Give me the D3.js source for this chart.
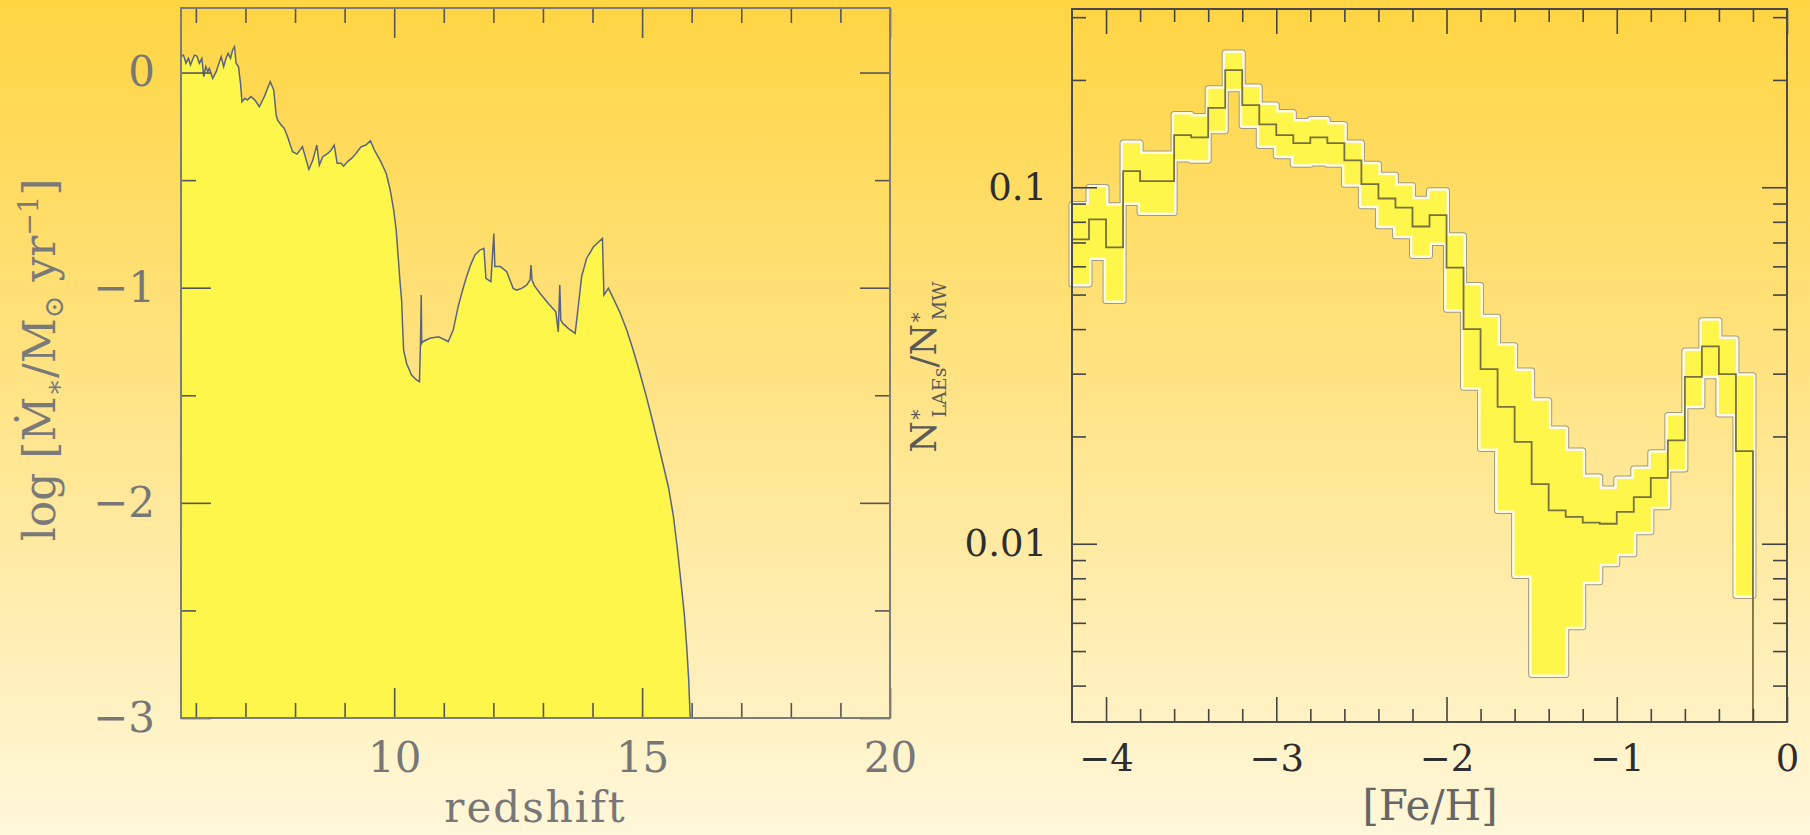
<!DOCTYPE html>
<html>
<head>
<meta charset="utf-8">
<script src="https://cdn.jsdelivr.net/npm/d3@7"></script>
<style>
  body { margin: 0; }
</style>
</head>
<body>
<div id="chart"></div>
<script>
/* Star formation history vs redshift (left) and LAE / MW metallicity ratio (right) */

// left panel: log SFR along the redshift track
const redshift = [5.70, 5.75, 5.80, 5.85, 5.89, 5.97, 6.02, 6.07, 6.12, 6.16, 6.20, 6.24, 6.27, 6.34, 6.41,
    6.51, 6.56, 6.61, 6.65, 6.70, 6.74, 6.78, 6.81, 6.86, 6.90, 6.93, 6.99, 7.04, 7.11, 7.19, 7.28, 7.38,
    7.50, 7.57, 7.62, 7.65, 7.72, 7.78, 7.85, 7.95, 8.04, 8.15, 8.28, 8.36, 8.44, 8.49, 8.56, 8.66, 8.73,
    8.79, 8.85, 8.93, 8.98, 9.06, 9.14, 9.23, 9.33, 9.43, 9.52, 9.60, 9.73, 9.84, 9.92, 9.99, 10.04, 10.08,
    10.12, 10.15, 10.17, 10.19, 10.25, 10.35, 10.45, 10.51, 10.53, 10.545, 10.555, 10.575, 10.72, 10.89,
    11.03, 11.09, 11.19, 11.29, 11.38, 11.46, 11.54, 11.63, 11.73, 11.81, 11.85, 11.95, 12.01, 12.03, 12.14,
    12.27, 12.40, 12.47, 12.57, 12.67, 12.74, 12.76, 12.78, 12.82, 12.94, 13.11, 13.26, 13.31, 13.34, 13.36,
    13.40, 13.51, 13.65, 13.72, 13.78, 13.88, 14.02, 14.20, 14.23, 14.32, 14.42, 14.56, 14.69, 14.82, 14.96,
    15.09, 15.19, 15.36, 15.53, 15.63, 15.71, 15.78, 15.85, 15.90, 15.94, 15.97];
const logSfr = [0.074, 0.081, 0.043, 0.066, 0.035, 0.081, 0.077, 0.043, 0.066, -0.019, 0.027, 0.004, 0.019, -0.027, 0.004,
    0.074, 0.027, 0.066, 0.089, 0.066, 0.105, 0.120, 0.043, 0.027, -0.050, -0.136, -0.120, -0.128, -0.112, -0.128, -0.159, -0.112,
    -0.043, -0.081, -0.198, -0.221, -0.244, -0.259, -0.298, -0.368, -0.379, -0.345, -0.450, -0.407, -0.337, -0.430, -0.391, -0.376, -0.360,
    -0.337, -0.422, -0.422, -0.435, -0.414, -0.399, -0.376, -0.345, -0.337, -0.317, -0.360, -0.414, -0.469, -0.546, -0.639, -0.732, -0.856,
    -0.980, -1.060, -1.180, -1.290, -1.352, -1.406, -1.429, -1.437, -1.259, -1.034, -1.259, -1.251, -1.235, -1.228,
    -1.243, -1.251, -1.197, -1.088, -1.011, -0.949, -0.895, -0.848, -0.825, -0.817, -0.957, -0.972, -0.748, -0.902, -0.902,
    -0.926, -1.003, -1.011, -1.003, -0.988, -0.964, -0.895, -0.964, -0.988, -1.026, -1.073, -1.112, -1.205, -0.988, -1.150,
    -1.166, -1.189, -1.212, -1.073, -0.949, -0.864, -0.810, -0.771, -1.034, -1.003, -1.050, -1.119, -1.197, -1.290, -1.400,
    -1.510, -1.600, -1.760, -1.925, -2.060, -2.210, -2.360, -2.514, -2.669, -2.823, -3.0];

// right panel: [Fe/H] bins (left edges, width 0.1) with ratio and its band
const fehBins = [-4.2, -4.1, -4.0, -3.9, -3.8, -3.7, -3.6, -3.5, -3.4, -3.3, -3.2, -3.1, -3.0, -2.9, -2.8, -2.7,
    -2.6, -2.5, -2.4, -2.3, -2.2, -2.1, -2.0, -1.9, -1.8, -1.7, -1.6, -1.5, -1.4, -1.3, -1.2, -1.1, -1.0, -0.9,
    -0.8, -0.7, -0.6, -0.5, -0.4, -0.3];
const fehEnd = -0.2;
const ratioMid = [0.0714, 0.0813, 0.0678, 0.111, 0.104, 0.104, 0.140, 0.138, 0.167, 0.213, 0.170, 0.150, 0.140, 0.133,
    0.138, 0.133, 0.119, 0.102, 0.093, 0.0877, 0.0776, 0.0835, 0.0595, 0.040, 0.0309, 0.0242, 0.0193, 0.0147, 0.0124,
    0.0119, 0.01146, 0.01138, 0.01228, 0.01352, 0.0153, 0.0195, 0.0294, 0.0358, 0.0299, 0.0182];
const ratioHigh = [0.0895, 0.0998, 0.0888, 0.133, 0.124, 0.124, 0.160, 0.158, 0.189, 0.238, 0.191, 0.170, 0.162, 0.153,
    0.155, 0.150, 0.133, 0.116, 0.108, 0.101, 0.0925, 0.0977, 0.0731, 0.053, 0.0432, 0.0359, 0.0305, 0.0252, 0.0210,
    0.0182, 0.01538, 0.01425, 0.0152, 0.0162, 0.0180, 0.0229, 0.0347, 0.0422, 0.0375, 0.0296];
const ratioLow = [0.0535, 0.0635, 0.0481, 0.0906, 0.0849, 0.0849, 0.120, 0.119, 0.144, 0.189, 0.149, 0.131, 0.1225, 0.116,
    0.117, 0.116, 0.102, 0.0888, 0.078, 0.0731, 0.0643, 0.070, 0.0455, 0.0275, 0.0185, 0.0124, 0.00815, 0.0043, 0.0043,
    0.00585, 0.00782, 0.00879, 0.00937, 0.0108, 0.0127, 0.0162, 0.0244, 0.0296, 0.0231, 0.00716];

// tick values
const zMajor = [10, 15, 20];
const zMinor = [6, 7, 8, 9, 11, 12, 13, 14, 16, 17, 18, 19];
const sfrMajor = [0, -1, -2, -3];
const sfrMinor = [-0.5, -1.5, -2.5];
const fehMajor = [-4, -3, -2, -1, 0];
const fehMinor = [-3.8, -3.6, -3.4, -3.2, -2.8, -2.6, -2.4, -2.2, -1.8, -1.6, -1.4, -1.2, -0.8, -0.6, -0.4, -0.2];
const ratioMajor = [0.1, 0.01];
const ratioMinor = [0.004, 0.005, 0.006, 0.007, 0.008, 0.009, 0.02, 0.03, 0.04, 0.05, 0.06, 0.07, 0.08, 0.09, 0.2, 0.3];

const width = 1810, height = 835;
const serif = '"DejaVu Serif", "Liberation Serif", serif';

let svg = d3.select("#chart")
    .append("svg")
    .attr("width", width)
    .attr("height", height);

let grad = svg.append("defs").append("linearGradient")
    .attr("id", "bg")
    .attr("x1", 0).attr("y1", 0).attr("x2", 0).attr("y2", 1);
grad.append("stop").attr("offset", "0%").attr("stop-color", "#ffd543");
grad.append("stop").attr("offset", "45%").attr("stop-color", "#ffe383");
grad.append("stop").attr("offset", "100%").attr("stop-color", "#fff7da");

svg.append("rect")
    .attr("width", width)
    .attr("height", height)
    .attr("fill", "url(#bg)");

function tidy(g, color, size, textColor) {
    g.select(".domain").remove();
    g.attr("font-family", serif).attr("font-size", size);
    g.selectAll(".tick line").attr("stroke", color).attr("stroke-width", 1.6);
    g.selectAll(".tick text").attr("fill", textColor);
}

/* ---------- left panel ---------- */
const m1 = {left: 181, right: 890, top: 8, bottom: 718};

let x1 = d3.scaleLinear()
    .domain([5.7, 20])
    .range([m1.left, m1.right]);

let y1 = d3.scaleLinear()
    .domain([-3, 0.3])
    .range([m1.bottom, m1.top]);

let sfr = redshift.map((z, i) => ({z: z, v: logSfr[i]}));

svg.append("path")
    .datum(sfr)
    .attr("fill", "#fff64b")
    .attr("d", d3.area()
        .x(d => x1(d.z))
        .y0(y1(-3))
        .y1(d => y1(d.v)));

svg.append("path")
    .datum(sfr)
    .attr("fill", "none")
    .attr("stroke", "#5a6480")
    .attr("stroke-width", 1.5)
    .attr("d", d3.line()
        .x(d => x1(d.z))
        .y(d => y1(d.v)));

// bottom / top
svg.append("g")
    .attr("transform", `translate(0,${m1.bottom})`)
    .call(d3.axisBottom(x1).tickValues(zMajor).tickSize(-30).tickPadding(24).tickFormat(d3.format("d")))
    .call(g => tidy(g, "#555", 42, "#777"));
svg.append("g")
    .attr("transform", `translate(0,${m1.bottom})`)
    .call(d3.axisBottom(x1).tickValues(zMinor).tickSize(-15).tickFormat(""))
    .call(g => tidy(g, "#555", 42, "#777"));
svg.append("g")
    .attr("transform", `translate(0,${m1.top})`)
    .call(d3.axisTop(x1).tickValues(zMajor).tickSize(-30).tickFormat(""))
    .call(g => tidy(g, "#555", 42, "#777"));
svg.append("g")
    .attr("transform", `translate(0,${m1.top})`)
    .call(d3.axisTop(x1).tickValues(zMinor).tickSize(-15).tickFormat(""))
    .call(g => tidy(g, "#555", 42, "#777"));

// left / right
svg.append("g")
    .attr("transform", `translate(${m1.left},0)`)
    .call(d3.axisLeft(y1).tickValues(sfrMajor).tickSize(-30).tickPadding(26).tickFormat(d3.format("d")))
    .call(g => tidy(g, "#555", 42, "#777"));
svg.append("g")
    .attr("transform", `translate(${m1.left},0)`)
    .call(d3.axisLeft(y1).tickValues(sfrMinor).tickSize(-15).tickFormat(""))
    .call(g => tidy(g, "#555", 42, "#777"));
svg.append("g")
    .attr("transform", `translate(${m1.right},0)`)
    .call(d3.axisRight(y1).tickValues(sfrMajor).tickSize(-30).tickFormat(""))
    .call(g => tidy(g, "#555", 42, "#777"));
svg.append("g")
    .attr("transform", `translate(${m1.right},0)`)
    .call(d3.axisRight(y1).tickValues(sfrMinor).tickSize(-15).tickFormat(""))
    .call(g => tidy(g, "#555", 42, "#777"));

svg.append("rect")
    .attr("x", m1.left).attr("y", m1.top)
    .attr("width", m1.right - m1.left).attr("height", m1.bottom - m1.top)
    .attr("fill", "none").attr("stroke", "#7c7c7c").attr("stroke-width", 2);

svg.append("text")
    .attr("x", (m1.left + m1.right) / 2)
    .attr("y", 822)
    .attr("text-anchor", "middle")
    .attr("font-family", serif).attr("font-size", 42)
    .attr("letter-spacing", 2)
    .attr("fill", "#777")
    .text("redshift");

let ylab1 = svg.append("text")
    .attr("transform", "translate(55,360) rotate(-90)")
    .attr("text-anchor", "middle")
    .attr("font-family", serif).attr("font-size", 44)
    .attr("fill", "#7a7a7a");
ylab1.append("tspan").text("log [Ṁ");
ylab1.append("tspan").attr("font-size", 27).attr("dy", 8).text("∗");
ylab1.append("tspan").attr("dy", -8).text("/M");
ylab1.append("tspan").attr("font-size", 27).attr("dy", 8).text("⊙");
ylab1.append("tspan").attr("dy", -8).text(" yr");
ylab1.append("tspan").attr("font-size", 27).attr("dy", -17).text("−1");
ylab1.append("tspan").attr("dy", 17).text("]");

/* ---------- right panel ---------- */
const m2 = {left: 1072, right: 1787, top: 9, bottom: 722};

let x2 = d3.scaleLinear()
    .domain([-4.2, 0])
    .range([m2.left, m2.right]);

let y2 = d3.scaleLog()
    .domain([Math.pow(10, -2.5), Math.pow(10, -0.5)])
    .range([m2.bottom, m2.top]);

let bins = fehBins.map((f, i) => ({f: f, mid: ratioMid[i], hi: ratioHigh[i], lo: ratioLow[i]}));
let last = bins[bins.length - 1];
let binsEnd = bins.concat([{f: fehEnd, mid: last.mid, hi: last.hi, lo: last.lo}]);

let band = d3.area()
    .curve(d3.curveStepAfter)
    .x(d => x2(d.f))
    .y0(d => y2(d.lo))
    .y1(d => y2(d.hi));

svg.append("path").datum(binsEnd)
    .attr("fill", "none").attr("stroke", "#a39a78").attr("stroke-width", 7)
    .attr("stroke-linejoin", "round")
    .attr("d", band);
svg.append("path").datum(binsEnd)
    .attr("fill", "none").attr("stroke", "#fffbe6").attr("stroke-width", 5)
    .attr("stroke-linejoin", "round")
    .attr("d", band);
svg.append("path").datum(binsEnd)
    .attr("fill", "#fff64b")
    .attr("d", band);

let lineData = bins.concat([{f: fehEnd, mid: y2.domain()[0]}]);
svg.append("path").datum(lineData)
    .attr("fill", "none")
    .attr("stroke", "#76723f")
    .attr("stroke-width", 1.8)
    .attr("d", d3.line()
        .curve(d3.curveStepAfter)
        .x(d => x2(d.f))
        .y(d => y2(d.mid)));

const ratioFmt = d => d === 0.1 ? "0.1" : "0.01";

svg.append("g")
    .attr("transform", `translate(0,${m2.bottom})`)
    .call(d3.axisBottom(x2).tickValues(fehMajor).tickSize(-25).tickPadding(23).tickFormat(d3.format("d")))
    .call(g => tidy(g, "#444", 37, "#2e2e2e"));
svg.append("g")
    .attr("transform", `translate(0,${m2.bottom})`)
    .call(d3.axisBottom(x2).tickValues(fehMinor).tickSize(-13).tickFormat(""))
    .call(g => tidy(g, "#444", 37, "#2e2e2e"));
svg.append("g")
    .attr("transform", `translate(0,${m2.top})`)
    .call(d3.axisTop(x2).tickValues(fehMajor).tickSize(-25).tickFormat(""))
    .call(g => tidy(g, "#444", 37, "#2e2e2e"));
svg.append("g")
    .attr("transform", `translate(0,${m2.top})`)
    .call(d3.axisTop(x2).tickValues(fehMinor).tickSize(-13).tickFormat(""))
    .call(g => tidy(g, "#444", 37, "#2e2e2e"));

svg.append("g")
    .attr("transform", `translate(${m2.left},0)`)
    .call(d3.axisLeft(y2).tickValues(ratioMajor).tickSize(-25).tickPadding(25).tickFormat(ratioFmt))
    .call(g => tidy(g, "#444", 37, "#2e2e2e"));
svg.append("g")
    .attr("transform", `translate(${m2.left},0)`)
    .call(d3.axisLeft(y2).tickValues(ratioMinor).tickSize(-14).tickFormat(""))
    .call(g => tidy(g, "#444", 37, "#2e2e2e"));
svg.append("g")
    .attr("transform", `translate(${m2.right},0)`)
    .call(d3.axisRight(y2).tickValues(ratioMajor).tickSize(-25).tickFormat(""))
    .call(g => tidy(g, "#444", 37, "#2e2e2e"));
svg.append("g")
    .attr("transform", `translate(${m2.right},0)`)
    .call(d3.axisRight(y2).tickValues(ratioMinor).tickSize(-14).tickFormat(""))
    .call(g => tidy(g, "#444", 37, "#2e2e2e"));

svg.append("rect")
    .attr("x", m2.left).attr("y", m2.top)
    .attr("width", m2.right - m2.left).attr("height", m2.bottom - m2.top)
    .attr("fill", "none").attr("stroke", "#4a4a4a").attr("stroke-width", 2);

svg.append("text")
    .attr("x", 1430)
    .attr("y", 820)
    .attr("text-anchor", "middle")
    .attr("font-family", serif).attr("font-size", 42)
    .attr("fill", "#666")
    .text("[Fe/H]");

let ylab2 = svg.append("text")
    .attr("transform", "translate(936,367) rotate(-90)")
    .attr("text-anchor", "middle")
    .attr("font-family", serif).attr("font-size", 36)
    .attr("fill", "#5a5a5a");
ylab2.append("tspan").text("N");
ylab2.append("tspan").attr("font-size", 20).attr("dy", -14).text("∗");
ylab2.append("tspan").attr("font-size", 19).attr("dx", -10).attr("dy", 24).text("LAEs");
ylab2.append("tspan").attr("dy", -10).text("/N");
ylab2.append("tspan").attr("font-size", 20).attr("dy", -14).text("∗");
ylab2.append("tspan").attr("font-size", 19).attr("dx", -10).attr("dy", 24).text("MW");
</script>
</body>
</html>
